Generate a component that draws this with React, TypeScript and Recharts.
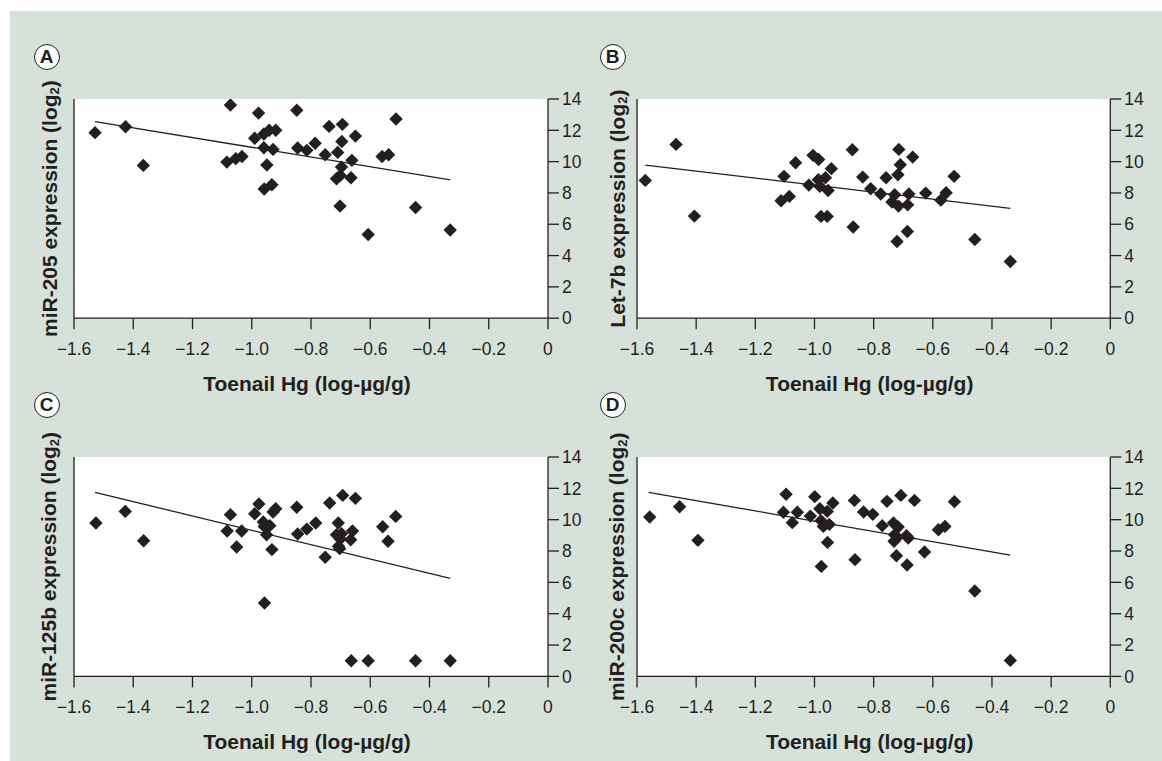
import { ScatterChart, Scatter, XAxis, YAxis, CartesianGrid, ReferenceLine } from "recharts";

type Pt = [number, number];

const X_TICKS = [-1.6, -1.4, -1.2, -1.0, -0.8, -0.6, -0.4, -0.2, 0];
const Y_TICKS = [0, 2, 4, 6, 8, 10, 12, 14];
const X_TITLE = "Toenail Hg (log-µg/g)";

// [toenail Hg, expression]
const MIR205: Pt[] = [
  [-1.529, 11.85], [-1.426, 12.23], [-1.366, 9.76], [-1.072, 13.62], [-0.977, 13.1],
  [-0.848, 13.28], [-0.513, 12.72], [-0.739, 12.25], [-0.694, 12.38], [-0.65, 11.63],
  [-0.696, 11.29], [-0.99, 11.49], [-0.959, 11.76], [-0.941, 12.0], [-0.919, 12.0],
  [-0.959, 10.89], [-0.928, 10.78], [-0.845, 10.87], [-0.814, 10.72], [-0.786, 11.17],
  [-0.752, 10.44], [-0.71, 10.59], [-0.662, 10.08], [-0.697, 9.65], [-0.714, 8.91],
  [-0.701, 9.12], [-0.665, 8.97], [-0.56, 10.33], [-0.538, 10.44], [-1.084, 9.97],
  [-1.054, 10.19], [-1.033, 10.33], [-0.949, 9.78], [-0.958, 8.25], [-0.932, 8.52],
  [-0.702, 7.16], [-0.447, 7.07], [-0.607, 5.35], [-0.33, 5.63],
];

const LET7B: Pt[] = [
  [-1.572, 8.8], [-1.468, 11.1], [-1.406, 6.52], [-1.113, 7.5], [-1.085, 7.78],
  [-1.103, 9.06], [-1.064, 9.93], [-1.019, 8.5], [-1.005, 10.4], [-0.986, 10.14],
  [-0.987, 8.84], [-0.963, 8.97], [-0.982, 8.42], [-0.954, 8.16], [-0.943, 9.55],
  [-0.978, 6.5], [-0.957, 6.5], [-0.872, 10.76], [-0.869, 5.82], [-0.837, 9.01],
  [-0.81, 8.27], [-0.776, 7.93], [-0.758, 8.97], [-0.715, 10.78], [-0.71, 9.8],
  [-0.718, 9.16], [-0.668, 10.29], [-0.729, 7.88], [-0.738, 7.42], [-0.716, 7.16],
  [-0.681, 7.93], [-0.685, 7.24], [-0.624, 7.99], [-0.573, 7.54], [-0.555, 8.01],
  [-0.528, 9.06], [-0.686, 5.54], [-0.721, 4.9], [-0.458, 5.03], [-0.338, 3.62],
];

const MIR125B: Pt[] = [
  [-1.526, 9.79], [-1.427, 10.53], [-1.365, 8.66], [-1.083, 9.28], [-1.072, 10.32],
  [-1.051, 8.26], [-1.034, 9.28], [-0.99, 10.38], [-0.976, 11.0], [-0.961, 9.85],
  [-0.958, 9.57], [-0.939, 9.62], [-0.95, 9.04], [-0.928, 10.49], [-0.919, 10.7],
  [-0.932, 8.09], [-0.957, 4.68], [-0.848, 10.79], [-0.845, 9.09], [-0.814, 9.4],
  [-0.784, 9.79], [-0.752, 7.6], [-0.737, 11.06], [-0.708, 9.79], [-0.693, 11.55],
  [-0.65, 11.36], [-0.714, 9.04], [-0.697, 9.11], [-0.701, 8.77], [-0.703, 8.15],
  [-0.707, 8.3], [-0.666, 8.72], [-0.66, 9.28], [-0.558, 9.55], [-0.514, 10.21],
  [-0.54, 8.62], [-0.664, 1.0], [-0.607, 1.0], [-0.447, 1.0], [-0.33, 1.0],
];

const MIR200C: Pt[] = [
  [-1.557, 10.17], [-1.456, 10.83], [-1.394, 8.68], [-1.096, 11.62], [-1.105, 10.47],
  [-1.058, 10.47], [-1.075, 9.81], [-1.014, 10.23], [-0.999, 11.47], [-0.982, 10.7],
  [-0.957, 10.53], [-0.938, 11.06], [-0.978, 9.94], [-0.97, 9.57], [-0.95, 9.7],
  [-0.956, 8.55], [-0.977, 7.02], [-0.865, 11.23], [-0.863, 7.45], [-0.834, 10.49],
  [-0.803, 10.34], [-0.771, 9.62], [-0.755, 11.17], [-0.708, 11.55], [-0.662, 11.23],
  [-0.733, 9.79], [-0.717, 9.53], [-0.729, 9.04], [-0.72, 8.87], [-0.731, 8.62],
  [-0.689, 8.98], [-0.683, 8.83], [-0.723, 7.7], [-0.687, 7.11], [-0.628, 7.94],
  [-0.581, 9.36], [-0.559, 9.57], [-0.527, 11.15], [-0.458, 5.45], [-0.338, 1.02],
];

// regression line end points
const FIT_205: Pt[] = [[-1.529, 12.55], [-0.33, 8.84]];
const FIT_LET7B: Pt[] = [[-1.572, 9.78], [-0.338, 7.01]];
const FIT_125B: Pt[] = [[-1.529, 11.74], [-0.33, 6.26]];
const FIT_200C: Pt[] = [[-1.561, 11.74], [-0.338, 7.74]];

const INK = "#231f20";
const BG = "#d6e1da";
const FONT = "'Liberation Sans', Arial, Helvetica, sans-serif";

const fmtX = (v: number) => (v === 0 ? "0" : "\u2212" + Math.abs(v).toFixed(1));

const Diamond = (p: any) => {
  const { cx, cy } = p;
  if (cx == null || cy == null) return null;
  const r = 6.7;
  return <path d={`M${cx},${cy - r}L${cx + r},${cy}L${cx},${cy + r}L${cx - r},${cy}Z`} fill={INK} />;
};

interface PanelProps {
  letter: string;
  gene: string;
  points: Pt[];
  fit: Pt[];
  plotX: number;
  plotY: number;
  plotW: number;
  plotH: number;
  labelGap: number; // plot left edge -> centre of y title
  badgeX: number; // page position of the circled letter
  badgeY: number;
}

function Panel({ letter, gene, points, fit, plotX, plotY, plotW, plotH, labelGap, badgeX, badgeY }: PanelProps) {
  const L = 80, T = 60, R = 70, B = 90;
  const lw = labelGap * 2;
  const data = points.map(([x, y]) => ({ x, y }));

  const yTitle = (props: any) => {
    const vb = props.viewBox;
    const cx = vb.x + vb.width / 2;
    const cy = vb.y + vb.height / 2;
    return (
      <text
        x={cx}
        y={cy}
        transform={`rotate(-90 ${cx} ${cy})`}
        textAnchor="middle"
        dominantBaseline="central"
        fontFamily={FONT}
        fontWeight={700}
        fontSize={21}
        fill={INK}
      >
        {gene} expression (log<tspan fontSize={13} dy={5}>2</tspan>
        <tspan dy={-5}>)</tspan>
      </text>
    );
  };

  const xTitle = (props: any) => {
    const vb = props.viewBox;
    return (
      <text
        x={vb.x + vb.width / 2 - 4}
        y={vb.y + 65}
        textAnchor="middle"
        dominantBaseline="central"
        fontFamily={FONT}
        fontWeight={700}
        fontSize={21}
        fill={INK}
      >
        {X_TITLE}
      </text>
    );
  };

  return (
    <>
      <div style={{ position: "absolute", left: plotX - L, top: plotY - T }}>
        <ScatterChart
          width={plotW + L + R}
          height={plotH + T + B}
          margin={{ top: T, left: L - lw, right: R - 50, bottom: B - 85 }}
        >
          <CartesianGrid yAxisId="r" fill="#ffffff" horizontal={false} vertical={false} />
          <XAxis
            type="number"
            dataKey="x"
            domain={[-1.6, 0]}
            ticks={X_TICKS}
            interval={0}
            tickFormatter={fmtX}
            height={85}
            tickSize={11}
            tickMargin={13}
            stroke={INK}
            strokeWidth={1.3}
            tick={{ fill: INK, fontSize: 17.5, fontFamily: FONT }}
            label={xTitle}
            allowDataOverflow
          />
          <YAxis
            yAxisId="l"
            orientation="left"
            type="number"
            domain={[0, 14]}
            width={lw}
            tick={false}
            tickLine={false}
            stroke={INK}
            strokeWidth={1.3}
            label={yTitle}
          />
          <YAxis
            yAxisId="r"
            orientation="right"
            type="number"
            dataKey="y"
            domain={[0, 14]}
            ticks={Y_TICKS}
            interval={0}
            width={50}
            tickSize={11}
            tickMargin={3}
            stroke={INK}
            strokeWidth={1.3}
            tick={{ fill: INK, fontSize: 17.5, fontFamily: FONT }}
            allowDataOverflow
          />
          <ReferenceLine
            yAxisId="r"
            segment={[{ x: fit[0][0], y: fit[0][1] }, { x: fit[1][0], y: fit[1][1] }]}
            stroke={INK}
            strokeWidth={1.3}
          />
          <Scatter yAxisId="r" data={data} shape={Diamond} isAnimationActive={false} />
        </ScatterChart>
      </div>
      <div
        style={{
          position: "absolute",
          left: badgeX - 13.5,
          top: badgeY - 13.5,
          width: 24,
          height: 24,
          borderRadius: "50%",
          border: `1.5px solid ${INK}`,
          background: "#fff",
          color: INK,
          fontFamily: FONT,
          fontWeight: 700,
          fontSize: 19,
          lineHeight: "24px",
          textAlign: "center",
        }}
      >
        {letter}
      </div>
    </>
  );
}

export default function App() {
  return (
    <div
      style={{
        position: "fixed",
        left: 0,
        top: 0,
        width: 1162,
        height: 761,
        background: "#fff",
        overflow: "hidden",
      }}
    >
      <div style={{ position: "absolute", left: 10, top: 11, right: 0, bottom: 0, background: BG }} />
      <Panel letter="A" gene="miR-205" points={MIR205} fit={FIT_205} plotX={74} plotY={98.5} plotW={474} plotH={219.2} labelGap={25} badgeX={47} badgeY={57} />
      <Panel letter="B" gene="Let-7b" points={LET7B} fit={FIT_LET7B} plotX={636.7} plotY={98.5} plotW={473.3} plotH={219.2} labelGap={20} badgeX={613} badgeY={57} />
      <Panel letter="C" gene="miR-125b" points={MIR125B} fit={FIT_125B} plotX={74} plotY={457.3} plotW={474} plotH={219.4} labelGap={25} badgeX={47} badgeY={405} />
      <Panel letter="D" gene="miR-200c" points={MIR200C} fit={FIT_200C} plotX={636.7} plotY={457.3} plotW={473.3} plotH={219.4} labelGap={20} badgeX={613} badgeY={405} />
    </div>
  );
}
